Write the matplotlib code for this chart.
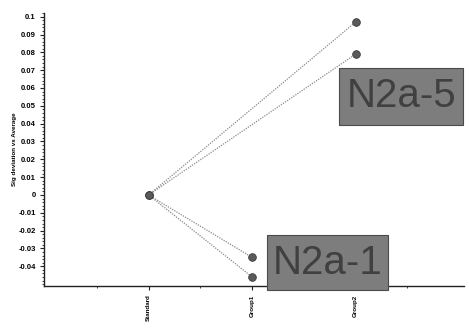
import numpy as np
import matplotlib
matplotlib.use("Agg")
import matplotlib.pyplot as plt
from matplotlib.ticker import MultipleLocator, FixedLocator
from matplotlib.patches import Rectangle

plt.rcParams['font.family'] = ['Liberation Sans', 'DejaVu Sans']

groups = ["Standard", "Group1", "Group2"]
series_a = [0.0, -0.035, 0.097]
series_b = [0.0, -0.046, 0.079]
ytick_vals = [0.1, 0.09, 0.08, 0.07, 0.06, 0.05, 0.04, 0.03, 0.02, 0.01, 0.0,
              -0.01, -0.02, -0.03, -0.04]
ytick_labels = ["0.1", "0.09", "0.08", "0.07", "0.06", "0.05", "0.04", "0.03",
                "0.02", "0.01", "0", "-0.01", "-0.02", "-0.03", "-0.04"]
ylabel = "Sig deviation vs Average"
box_labels = ["N2a-5", "N2a-1"]

fig = plt.figure(figsize=(4.69, 3.36), dpi=100)
ax = fig.add_axes([0.094, 0.149, 0.896, 0.812])

x = np.arange(len(groups))
# every group is linked back to the standard, not to its neighbour
for s in (series_a, series_b):
    for i in range(1, len(groups)):
        ax.plot([x[0], x[i]], [s[0], s[i]], linestyle=(0, (1, 1)), color="#8a8a8a",
                linewidth=0.9, clip_on=False, zorder=2)
    ax.plot(x, s, linestyle="none", marker="o", markersize=5.5,
            markerfacecolor="#5a5a5a", markeredgecolor="#3a3a3a",
            markeredgewidth=0.6, clip_on=False, zorder=3)

ax.set_xlim(-1.01, 3.05)
ax.set_ylim(-0.051, 0.102)

ax.set_xticks(x)
ax.set_xticklabels(groups, rotation=90, fontsize=4.5, fontweight="bold")
ax.xaxis.set_minor_locator(FixedLocator([-0.5, 0.5, 1.5, 2.5]))
ax.set_yticks(ytick_vals)
ax.set_yticklabels(ytick_labels, fontsize=5.5, fontweight="bold")
ax.yaxis.set_minor_locator(MultipleLocator(0.002))
ax.tick_params(axis="both", which="major", length=3, width=0.8, color="#222222", pad=3)
ax.tick_params(axis="both", which="minor", length=1.5, width=0.6, color="#222222")
ax.set_ylabel(ylabel, fontsize=4.5, labelpad=1, fontweight="bold")

for side in ("top", "right"):
    ax.spines[side].set_visible(False)
for side in ("left", "bottom"):
    ax.spines[side].set_linewidth(1.0)
    ax.spines[side].set_color("#222222")

# label boxes
boxes = [(1.84, 0.0393, 1.20, 0.0320), (1.14, -0.0534, 1.17, 0.0309)]
for (bx, by, bw, bh), lab in zip(boxes, box_labels):
    ax.add_patch(Rectangle((bx, by), bw, bh, facecolor="#7d7d7d", edgecolor="#4a4a4a",
                           linewidth=0.8, clip_on=False, zorder=4))
    ax.text(bx + bw / 2, by + bh / 2, lab, ha="center", va="center", fontsize=29,
            color="#404040", clip_on=False, zorder=5)

fig.savefig("out.png", dpi=100)
